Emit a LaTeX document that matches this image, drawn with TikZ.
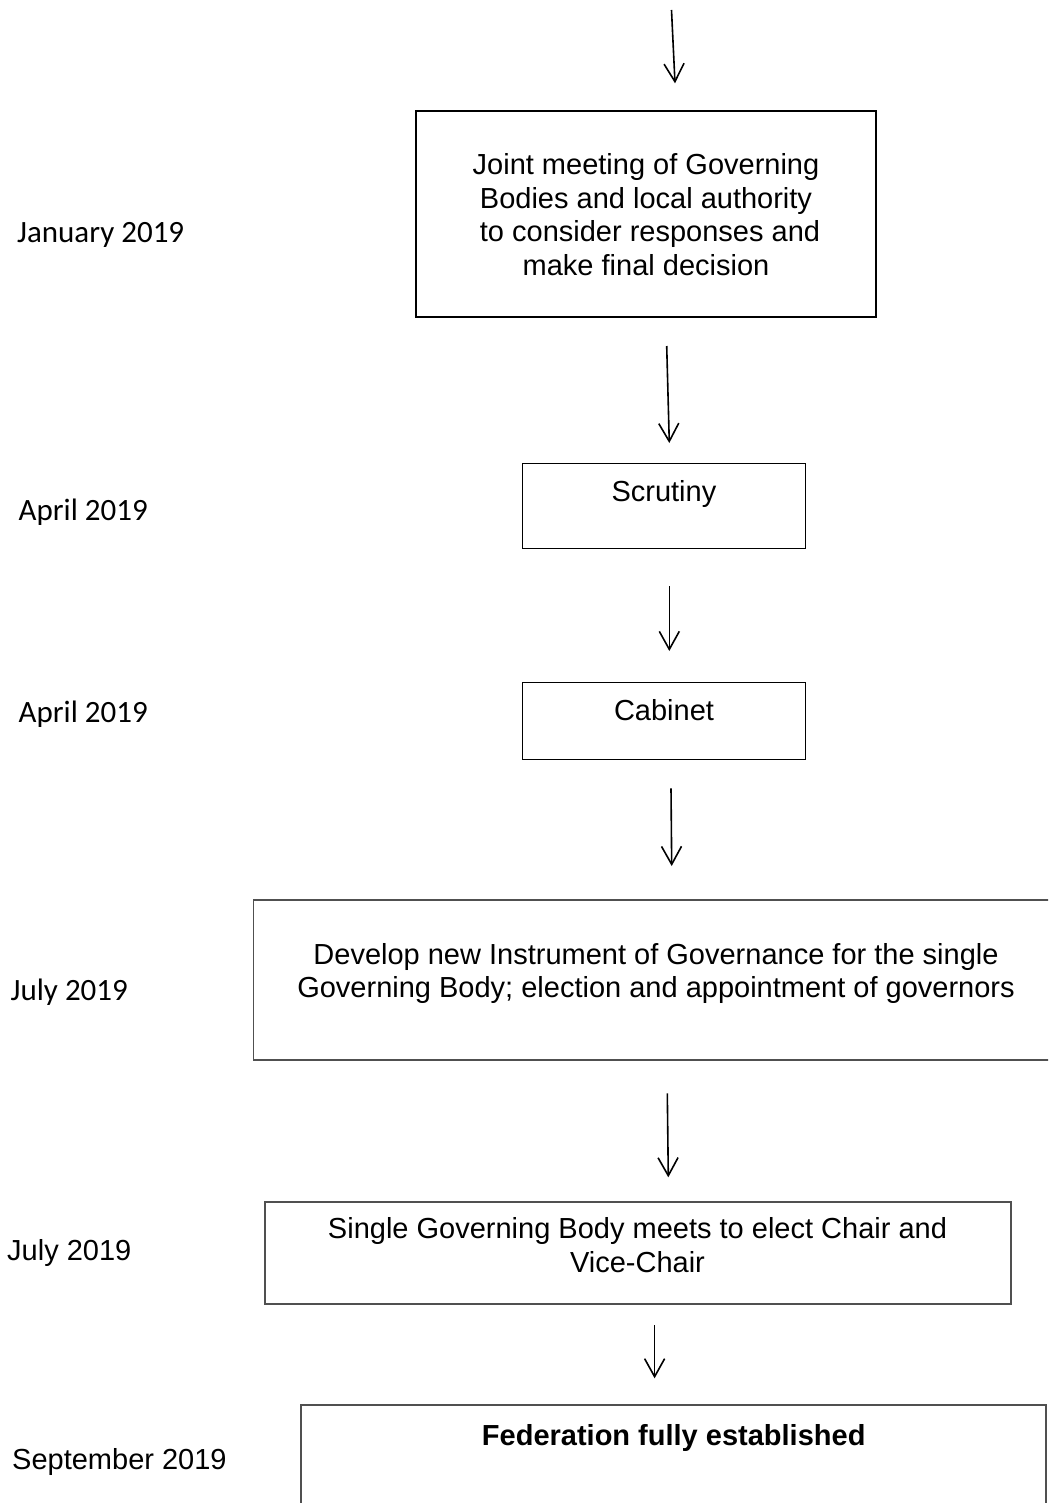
\documentclass[tikz,border=0pt]{standalone}
\usepackage{fontspec}
\setmainfont{Liberation Sans}
\newfontfamily\calib{Carlito}
\usetikzlibrary{arrows.meta}
\definecolor{boxgray}{RGB}{80,80,80}
\tikzset{
  box/.style={draw=black, line width=1.5bp, rectangle, inner sep=0pt},
  graybox/.style={draw=boxgray, line width=1.5bp, rectangle, inner sep=0pt},
  boxtext/.style={inner sep=0pt, anchor=base, align=center, font=\fontsize{29bp}{33.4bp}\selectfont},
  datecal/.style={inner sep=0pt, anchor=base west, font=\calib\fontsize{31bp}{36bp}\selectfont},
  datearial/.style={inner sep=0pt, anchor=base west, font=\fontsize{29bp}{33.4bp}\selectfont},
  arr/.style={line width=1.6bp, -{Straight Barb[length=18bp,width=20bp]}}
}
\begin{document}
\begin{tikzpicture}[x=1bp,y=-1bp]
\useasboundingbox (0,0) rectangle (1048,1503);
\clip (0,0) rectangle (1048,1503);

% boxes
\node[box, minimum width=460bp, minimum height=206bp] (b1) at (646,214) {};
\node[box, minimum width=283bp, minimum height=85.4bp] (b2) at (663.8,506) {};
\node[box, minimum width=283bp, minimum height=77bp] (b3) at (663.8,720.8) {};
\node[graybox, minimum width=805.7bp, minimum height=160bp] (b4) at (656.2,980) {};
\node[graybox, minimum width=745.5bp, minimum height=102.3bp] (b5) at (638,1252.9) {};
\node[graybox, minimum width=745bp, minimum height=125bp] (b6) at (673.5,1467.5) {};

% box texts (base anchor = baseline of the last line)
\node[boxtext] (t1) at (646,275) {Joint meeting of Governing\\Bodies and local authority\\\hspace*{8bp}to consider responses and\\make final decision};
\node[boxtext] (t2) at (663.9,501.7) {Scrutiny};
\node[boxtext] (t3) at (664,720) {Cabinet};
\node[boxtext] (t4) at (656,997.5) {Develop new Instrument of Governance for the single\\Governing Body; election and appointment of governors};
\node[boxtext] (t5) at (637.5,1272.3) {Single Governing Body meets to elect Chair and\\Vice-Chair};
\node[boxtext, font=\bfseries\fontsize{29bp}{33.4bp}\selectfont] (t6) at (673.7,1445) {Federation fully established};

% dates
\node[datecal] (d1) at (17,242) {January 2019};
\node[datecal] (d2) at (18.5,520) {April 2019};
\node[datecal] (d3) at (18.5,722.7) {April 2019};
\node[datecal] (d4) at (10.5,1000) {July 2019};
\node[datearial] (d5) at (7,1260) {July 2019};
\node[datearial] (d6) at (12,1469) {September 2019};

% arrow end points
\coordinate (a0s) at (671.5,10);   \coordinate (a0e) at (675,83.3);
\coordinate (a1s) at (666.7,346);  \coordinate (a1e) at (669.3,443);
\coordinate (a2s) at (669.3,586);  \coordinate (a2e) at (669.3,651);
\coordinate (a3s) at (671,788.3);  \coordinate (a3e) at (671.7,866);
\coordinate (a4s) at (667.3,1093.3); \coordinate (a4e) at (668.3,1177.3);
\coordinate (a5s) at (654.6,1325); \coordinate (a5e) at (654.6,1378.3);

\draw[arr] (a0s) -- (a0e);
\draw[arr] (a1s) -- (a1e);
\draw[arr] (a2s) -- (a2e);
\draw[arr] (a3s) -- (a3e);
\draw[arr] (a4s) -- (a4e);
\draw[arr] (a5s) -- (a5e);
\end{tikzpicture}
\end{document}
